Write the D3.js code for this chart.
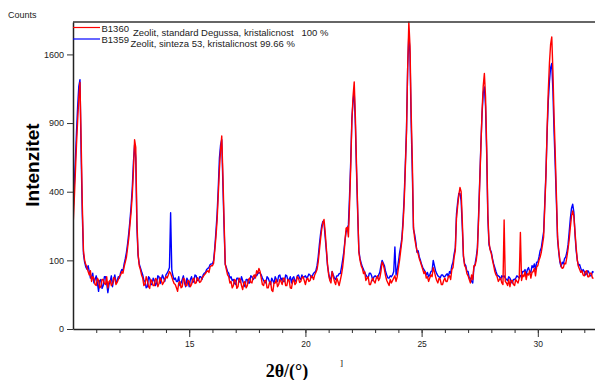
<!DOCTYPE html>
<html>
<head>
<meta charset="utf-8">
<script src="https://cdn.jsdelivr.net/npm/d3@7"></script>
<style>
  body { margin: 0; background: #fff; }
  svg { display: block; font-family: "Liberation Sans", Arial, sans-serif; }
</style>
</head>
<body>
<svg id="chart" width="595" height="380"></svg>
<script>
// scan grid: 2theta from 10.00 deg, step 0.05 deg (one row = 0.5 deg)
const startAngle = 10.0;
const stepAngle = 0.05;

// B1360 - Zeolit, standard Degussa (red)
const b1360 = [
  220, 340, 510, 720, 920, 1130, 1290, 760, 330, 130,
  100, 88, 80, 70, 62, 72, 48, 58, 55, 42,
  40, 55, 50, 36, 38, 52, 52, 44, 42, 58,
  36, 48, 50, 40, 44, 56, 55, 42, 46, 52,
  58, 62, 70, 66, 82, 95, 110, 140, 175, 230,
  290, 380, 530, 760, 700, 250, 120, 85, 75, 62,
  55, 40, 42, 58, 50, 38, 35, 52, 48, 40,
  40, 54, 52, 38, 44, 56, 50, 42, 46, 52,
  58, 55, 62, 70, 66, 58, 50, 44, 42, 36,
  30, 45, 48, 36, 38, 55, 52, 40, 40, 50,
  48, 38, 42, 52, 55, 44, 45, 56, 52, 46,
  48, 55, 58, 62, 65, 70, 72, 68, 82, 85,
  85, 92, 130, 180, 250, 380, 540, 680, 790, 500,
  250, 90, 75, 62, 58, 45, 48, 36, 40, 52,
  50, 35, 38, 55, 52, 40, 33, 45, 48, 36,
  40, 52, 55, 46, 45, 58, 62, 55, 72, 66,
  78, 70, 55, 42, 40, 50, 50, 36, 36, 45,
  48, 32, 30, 45, 45, 52, 38, 42, 52, 48,
  42, 55, 55, 40, 40, 52, 50, 36, 35, 48,
  52, 42, 45, 58, 55, 46, 48, 56, 58, 50,
  42, 52, 55, 48, 50, 60, 58, 52, 62, 68,
  75, 95, 130, 170, 210, 240, 255, 200, 140, 90,
  62, 50, 45, 70, 58, 48, 42, 55, 48, 40,
  50, 62, 80, 110, 160, 215, 220, 180, 330, 560,
  920, 1150, 1296, 950, 560, 300, 125, 100, 85, 78,
  65, 70, 50, 55, 58, 42, 42, 50, 55, 48,
  45, 55, 60, 50, 55, 70, 95, 88, 75, 60,
  50, 45, 40, 52, 45, 50, 55, 60, 48, 58,
  78, 100, 130, 165, 230, 340, 550, 820, 1450, 2000,
  1700, 1000, 600, 220, 175, 150, 130, 120, 105, 95,
  85, 75, 65, 70, 55, 58, 48, 55, 62, 58,
  80, 70, 58, 50, 45, 55, 52, 42, 42, 50,
  55, 48, 48, 58, 60, 52, 75, 80, 110, 130,
  260, 320, 380, 425, 400, 250, 115, 85, 80, 65,
  60, 52, 45, 62, 52, 85, 85, 100, 130, 250,
  450, 700, 1000, 1250, 1385, 1150, 700, 280, 160, 132,
  120, 100, 85, 70, 62, 58, 48, 52, 55, 45,
  42, 252, 48, 45, 40, 52, 38, 50, 50, 42,
  40, 52, 48, 45, 55, 198, 50, 62, 58, 70,
  52, 65, 62, 72, 55, 68, 70, 78, 60, 82,
  85, 100, 110, 125, 150, 180, 320, 500, 850, 1200,
  1500, 1720, 1810, 1400, 950, 650, 380, 180, 130, 100,
  85, 78, 80, 92, 90, 110, 135, 170, 220, 270,
  296, 270, 200, 140, 100, 82, 75, 68, 72, 62,
  60, 70, 72, 58, 58, 66, 66, 55, 55
];

// B1359 - Zeolit, sinteza 53 (blue)
const b1359 = [
  285, 420, 600, 820, 1050, 1250, 1320, 650, 280, 120,
  95, 82, 76, 85, 70, 55, 58, 66, 45, 52,
  60, 45, 30, 50, 52, 35, 40, 58, 58, 44,
  28, 42, 48, 60, 38, 52, 62, 45, 50, 58,
  55, 68, 75, 72, 90, 105, 125, 155, 195, 250,
  320, 420, 590, 720, 620, 220, 115, 90, 80, 70,
  62, 50, 48, 36, 38, 58, 55, 42, 42, 55,
  50, 40, 45, 60, 58, 44, 52, 62, 55, 48,
  62, 66, 72, 80, 287, 75, 60, 52, 55, 48,
  48, 58, 40, 45, 52, 60, 45, 38, 55, 50,
  38, 52, 58, 46, 48, 62, 60, 50, 50, 58,
  58, 52, 62, 66, 68, 75, 78, 80, 88, 90,
  90, 100, 140, 200, 280, 420, 620, 720, 760, 440,
  220, 88, 80, 70, 66, 55, 58, 50, 52, 44,
  42, 55, 55, 48, 46, 58, 50, 42, 38, 52,
  52, 45, 45, 60, 58, 52, 55, 62, 60, 65,
  68, 66, 62, 55, 50, 46, 45, 58, 55, 48,
  42, 55, 50, 44, 58, 52, 48, 60, 62, 50,
  55, 48, 48, 62, 60, 50, 52, 58, 45, 55,
  58, 48, 50, 60, 62, 55, 52, 62, 55, 58,
  60, 55, 58, 64, 62, 56, 60, 66, 68, 72,
  85, 110, 150, 190, 225, 245, 238, 180, 130, 85,
  66, 52, 55, 70, 62, 55, 52, 60, 60, 65,
  65, 80, 100, 125, 165, 200, 215, 230, 380, 600,
  940, 1100, 1190, 880, 520, 280, 130, 105, 92, 82,
  75, 68, 62, 58, 55, 66, 66, 60, 50, 58,
  60, 58, 55, 62, 68, 85, 100, 92, 85, 70,
  62, 55, 55, 60, 58, 62, 70, 143, 62, 75,
  95, 122, 145, 175, 250, 370, 580, 850, 1450, 1850,
  1600, 900, 520, 210, 190, 160, 125, 130, 110, 100,
  88, 80, 75, 70, 62, 68, 58, 62, 70, 72,
  100, 85, 72, 65, 60, 58, 55, 62, 62, 58,
  58, 62, 65, 58, 70, 66, 85, 95, 120, 140,
  280, 340, 390, 390, 350, 220, 110, 90, 85, 70,
  70, 55, 55, 48, 45, 80, 90, 110, 140, 270,
  470, 720, 980, 1180, 1244, 1050, 650, 260, 150, 135,
  125, 105, 90, 80, 70, 62, 60, 58, 52, 60,
  58, 60, 55, 52, 50, 58, 55, 48, 45, 52,
  52, 55, 60, 58, 55, 60, 62, 70, 70, 75,
  62, 75, 80, 70, 68, 85, 80, 90, 75, 95,
  95, 110, 130, 140, 170, 200, 340, 520, 820, 1100,
  1300, 1450, 1496, 1200, 820, 560, 340, 170, 125, 95,
  82, 95, 90, 105, 110, 125, 150, 200, 260, 310,
  331, 290, 190, 130, 100, 85, 88, 78, 70, 75,
  70, 62, 65, 72, 68, 60, 60, 70, 68
];

const yTicks = [0, 100, 400, 900, 1600];
const xTicks = [15, 20, 25, 30];

const legend = [
  {id: "B1360", name: "Zeolit, standard Degussa, kristalicnost", value: "100 %", color: "#ff0000"},
  {id: "B1359", name: "Zeolit, sinteza 53, kristalicnost", value: "99.66 %", color: "#0000ff"}
];

const plotLeft = 73, plotRight = 595, plotTop = 22, plotBottom = 329;
const svg = d3.select("#chart");

const x = d3.scaleLinear().domain([10, 32.46]).range([plotLeft, plotRight]);
const y = d3.scaleSqrt().domain([0, 2000]).range([plotBottom, plotTop]);

const angles = b1360.map((d, i) => startAngle + i * stepAngle);

svg.append("clipPath").attr("id", "plot-clip")
  .append("rect")
  .attr("x", plotLeft).attr("y", plotTop - 1)
  .attr("width", plotRight - plotLeft).attr("height", plotBottom - plotTop + 1);

const line = d3.line()
  .x((d, i) => x(angles[i]))
  .y(d => y(d));

// blue first, red on top
svg.append("path")
  .datum(b1359)
  .attr("clip-path", "url(#plot-clip)")
  .attr("fill", "none")
  .attr("stroke", "#0000ff")
  .attr("stroke-width", 1.4)
  .attr("stroke-linejoin", "round")
  .attr("d", line);

svg.append("path")
  .datum(b1360)
  .attr("clip-path", "url(#plot-clip)")
  .attr("fill", "none")
  .attr("stroke", "#ff0000")
  .attr("stroke-width", 1.4)
  .attr("stroke-linejoin", "round")
  .attr("d", line);

// top frame line
svg.append("line")
  .attr("x1", plotLeft).attr("x2", plotRight)
  .attr("y1", plotTop).attr("y2", plotTop)
  .attr("stroke", "#333").attr("stroke-width", 1.5);

// x axis: minor ticks then major ticks with labels
svg.append("g")
  .attr("transform", "translate(0," + plotBottom + ")")
  .call(d3.axisBottom(x).tickValues(d3.range(11, 33)).tickSize(4).tickFormat(""))
  .call(g => g.select(".domain").remove())
  .selectAll("line").attr("stroke", "#333");

const xAxis = svg.append("g")
  .attr("transform", "translate(0," + plotBottom + ")")
  .call(d3.axisBottom(x).tickValues(xTicks).tickSize(8).tickSizeOuter(0).tickPadding(4));
xAxis.select(".domain").attr("stroke", "#222").attr("stroke-width", 1.5);
xAxis.selectAll("line").attr("stroke", "#333");
xAxis.selectAll("text").attr("font-size", 8.5).attr("fill", "#222")
  .attr("font-family", "Liberation Sans, Arial, sans-serif");

// y axis (square-root intensity scale)
const yAxis = svg.append("g")
  .attr("transform", "translate(" + plotLeft + ",0)")
  .call(d3.axisLeft(y).tickValues(yTicks).tickFormat(d3.format("d"))
    .tickSize(6).tickSizeOuter(0).tickPadding(3));
yAxis.select(".domain").attr("stroke", "#222").attr("stroke-width", 1.5);
yAxis.selectAll("line").attr("stroke", "#333");
yAxis.selectAll("text").attr("font-size", 9).attr("fill", "#222")
  .attr("font-family", "Liberation Sans, Arial, sans-serif");

// legend
legend.forEach((d, i) => {
  const ly = 27.5 + i * 11.5;
  svg.append("line")
    .attr("x1", plotLeft).attr("x2", 100)
    .attr("y1", ly).attr("y2", ly)
    .attr("stroke", d.color).attr("stroke-width", 1.2);
  svg.append("text")
    .attr("x", 101.5).attr("y", ly + 4)
    .attr("font-size", 9.5).attr("fill", "#222")
    .text(d.id);
});
svg.append("text").attr("x", 133).attr("y", 36).attr("font-size", 9.5).attr("fill", "#222").text(legend[0].name);
svg.append("text").attr("x", 301.5).attr("y", 36).attr("font-size", 9.5).attr("fill", "#222").text(legend[0].value);
svg.append("text").attr("x", 130.5).attr("y", 46.7).attr("font-size", 9.5).attr("fill", "#222").text(legend[1].name);
svg.append("text").attr("x", 260).attr("y", 46.7).attr("font-size", 9.5).attr("fill", "#222").text(legend[1].value);

// axis titles
svg.append("text")
  .attr("x", 8).attr("y", 18)
  .attr("font-size", 9).attr("fill", "#222")
  .text("Counts");

svg.append("text")
  .attr("transform", "translate(38.5,165) rotate(-90)")
  .attr("text-anchor", "middle")
  .attr("font-size", 19).attr("font-weight", "bold")
  .attr("font-family", "Liberation Sans, Arial, sans-serif")
  .text("Intenzitet");

svg.append("text")
  .attr("x", 287).attr("y", 377)
  .attr("text-anchor", "middle")
  .attr("font-size", 18).attr("font-weight", "bold")
  .attr("font-family", "Liberation Serif, Times New Roman, serif")
  .text("2θ/(°)");

svg.append("text")
  .attr("x", 340).attr("y", 366)
  .attr("font-size", 9)
  .attr("font-family", "Liberation Serif, Times New Roman, serif")
  .text("]");
</script>
</body>
</html>
